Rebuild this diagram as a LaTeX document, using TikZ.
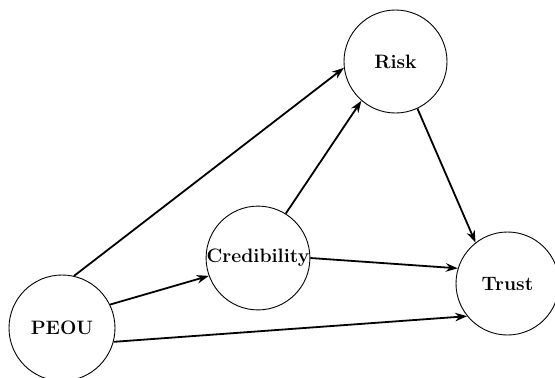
\documentclass[tikz,border=0pt]{standalone}
\usepackage{fontspec}
\usetikzlibrary{arrows.meta}
\begin{document}
\begin{tikzpicture}[x=1pt,y=-1pt,
  concept/.style={circle,draw=black,line width=0.9pt,inner sep=0pt,
    font=\fontsize{19.4}{23}\selectfont\bfseries},
  link/.style={line width=1.8pt,-{Stealth[length=12pt,width=8.5pt]}}]
\useasboundingbox (0,0) rectangle (555,378);
\node[concept,minimum size=106pt] (peou) at (62,328) {PEOU};
\node[concept,minimum size=102pt] (cred) at (258,258) {Credibility};
\node[concept,minimum size=103pt] (risk) at (395.5,61.5) {Risk};
\node[concept,minimum size=103pt] (trust) at (507.5,283.5) {Trust};
\draw[link] (peou.77) -- (risk.187);
\draw[link] (peou.26) -- (cred.200);
\draw[link] (peou.-15) -- (trust.219);
\draw[link] (cred.58) -- (risk.229);
\draw[link] (cred.0) -- (trust.163);
\draw[link] (risk.-65) -- (trust.128);
\end{tikzpicture}
\end{document}
